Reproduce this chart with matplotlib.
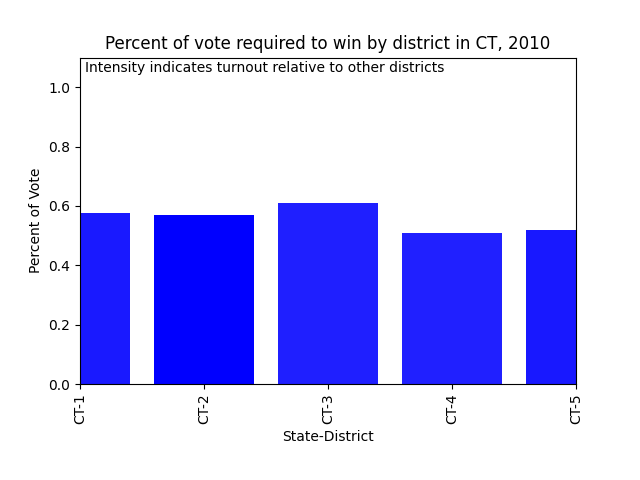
import matplotlib
matplotlib.use("Agg")
import matplotlib.pyplot as plt

districts = ["CT-1", "CT-2", "CT-3", "CT-4", "CT-5"]
vote_share = [0.576, 0.569, 0.609, 0.508, 0.519]
intensity = [0.90, 1.00, 0.88, 0.875, 0.905]

fig, ax = plt.subplots(figsize=(6.4, 4.8), dpi=100)
fig.subplots_adjust(bottom=0.2)
x = list(range(len(districts)))
for xi, v, a in zip(x, vote_share, intensity):
    ax.bar(xi, v, width=0.8, color="blue", alpha=a)
ax.set_xticks(x)
ax.set_xticklabels(districts, rotation=90)
ax.set_xlim(0, len(districts) - 1)
ax.set_ylim(0, 1.1)
ax.set_xlabel("State-District")
ax.set_ylabel("Percent of Vote")
ax.set_title("Percent of vote required to win by district in CT, 2010")
ax.text(0.01, 0.99, "Intensity indicates turnout relative to other districts",
        transform=ax.transAxes, va="top", ha="left")
fig.savefig("out.png", dpi=100)
